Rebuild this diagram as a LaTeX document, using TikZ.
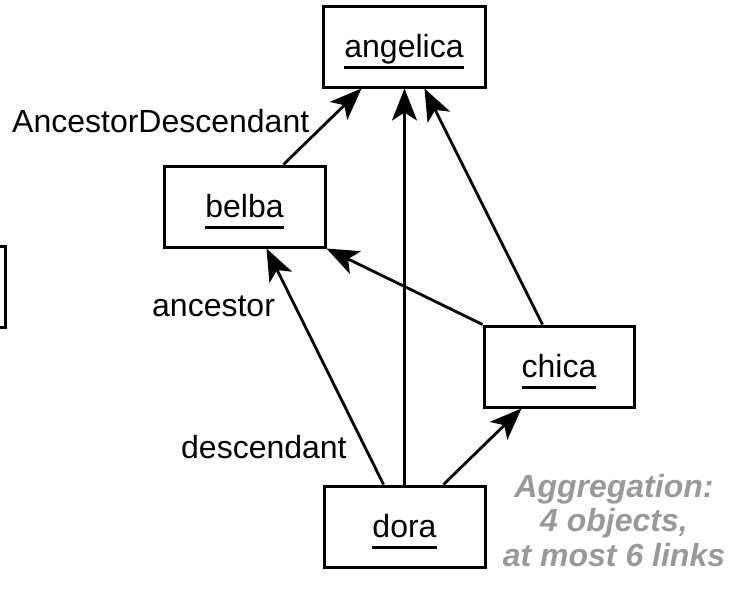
\documentclass[tikz,border=0pt]{standalone}
\usepackage{fontspec}
\setmainfont{Liberation Sans}
\usetikzlibrary{arrows.meta}
\newcommand\objul[1]{\setbox0\hbox{#1}\rlap{\rule[-11pt]{\wd0}{3pt}}\box0}
\tikzset{
  obj/.style={draw, line width=3pt, minimum height=81pt, inner sep=0pt,
    text height=22pt, text depth=0pt, font=\fontsize{32}{34}\selectfont},
  link/.style={line width=2.8pt, -{Stealth[length=32pt,width=25pt,inset=8pt]}},
  lbl/.style={inner sep=0pt, anchor=base west, font=\fontsize{32}{34}\selectfont},
  note/.style={inner sep=0pt, align=center, text=black!40,
    font=\fontsize{32}{34.5}\selectfont\bfseries\itshape}
}
\begin{document}
\begin{tikzpicture}[x=1pt,y=-1pt]
\useasboundingbox[fill=white] (0,0) rectangle (729,590);
\node[obj, minimum width=162pt] (angelica) at (404,46.5) {\objul{angelica}};
\node[obj, minimum width=161pt] (belba) at (244.5,206.5) {\objul{belba}};
\node[obj, minimum width=150pt] (chica) at (559,366.5) {\objul{chica}};
\node[obj, minimum width=161pt] (dora) at (404.5,526.5) {\objul{dora}};
\draw[line width=3pt] (0,246) -- (5,246) -- (5,327) -- (0,327);
\draw[link] ([xshift=121pt]belba.north west) -- ([xshift=40pt]angelica.south west);
\draw[link] (dora.north) -- (dora.north |- angelica.south);
\draw[link] ([xshift=60pt]chica.north west) -- ([xshift=103pt]angelica.south west);
\draw[link] (chica.north west) -- (belba.south east);
\draw[link] ([xshift=61pt]dora.north west) -- ([xshift=104pt]belba.south west);
\draw[link] ([xshift=121pt]dora.north west) -- ([xshift=39pt]chica.south west);
\node[lbl] (ad) at (12,132) {AncestorDescendant};
\node[lbl] (anc) at (152,316) {ancestor};
\node[lbl] (desc) at (181,458) {descendant};
\node[note, anchor=north] (agg) at (614,474) {Aggregation:\\4 objects,\\at most 6 links};
\end{tikzpicture}
\end{document}
